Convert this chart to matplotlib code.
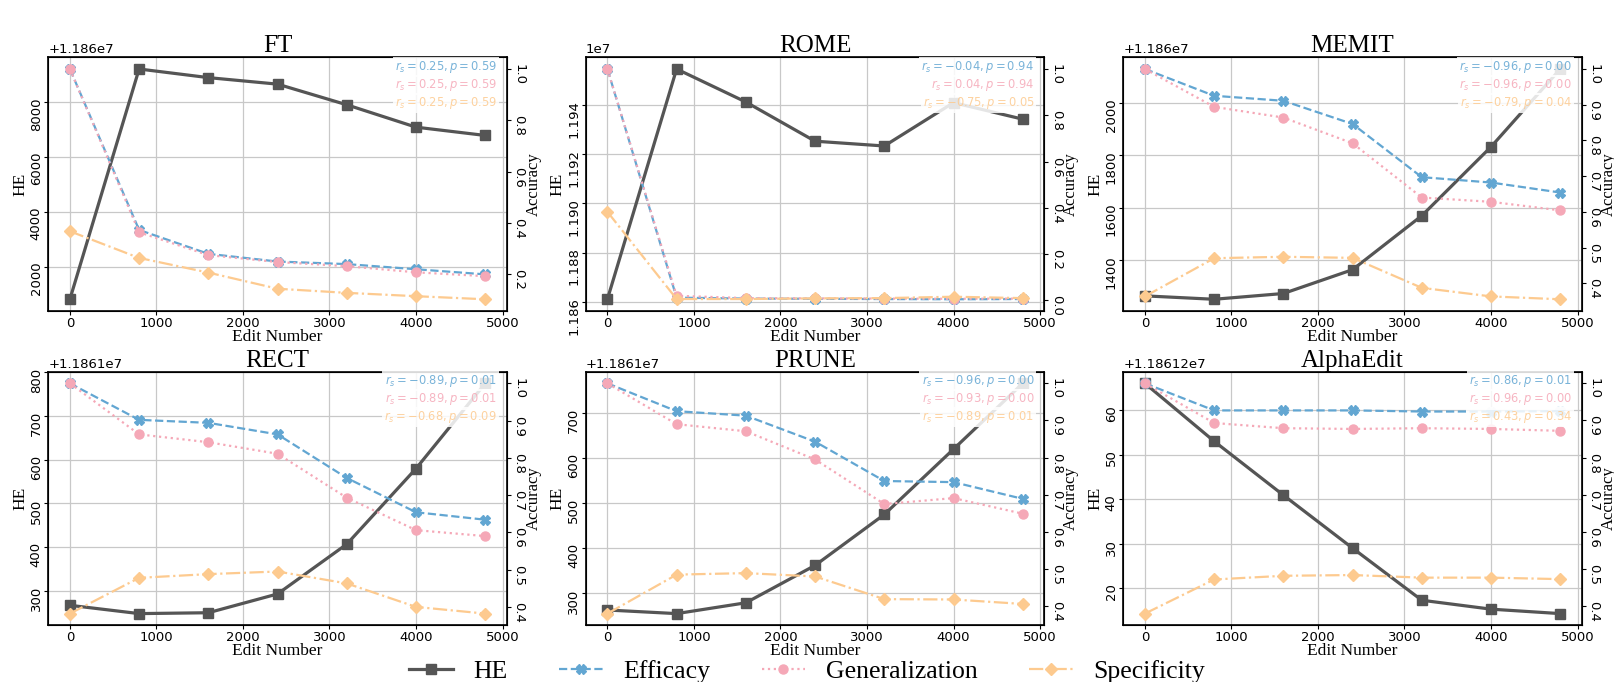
import matplotlib
matplotlib.use("Agg")
import matplotlib.pyplot as plt

edits = [0, 800, 1600, 2400, 3200, 4000, 4800]
methods = ["FT", "ROME", "MEMIT", "RECT", "PRUNE", "AlphaEdit"]

he_ft = [11860808, 11869205, 11868891, 11868653, 11867900, 11867084, 11866782]
he_rome = [11860979, 11954690, 11941260, 11925310, 11923360, 11941000, 11934270]
he_memit = [11861264, 11861251, 11861273, 11861364, 11861570, 11861833, 11862130]
he_rect = [11861267, 11861248, 11861250, 11861293, 11861407, 11861580, 11861775]
he_prune = [11861263, 11861255, 11861279, 11861362, 11861475, 11861620, 11861766]
he_alpha = [11861266.0, 11861253.0, 11861240.9, 11861229.0, 11861217.3, 11861215.3, 11861214.3]

eff_ft = [1.0, 0.373, 0.28, 0.25, 0.24, 0.22, 0.20]
eff_rome = [1.0, 0.012, 0.008, 0.007, 0.006, 0.005, 0.006]
eff_memit = [1.0, 0.925, 0.911, 0.846, 0.697, 0.682, 0.654]
eff_rect = [1.0, 0.902, 0.894, 0.863, 0.746, 0.654, 0.634]
eff_prune = [1.0, 0.925, 0.913, 0.843, 0.737, 0.734, 0.689]
eff_alpha = [1.0, 0.927, 0.927, 0.927, 0.924, 0.924, 0.925]

gen_ft = [1.0, 0.364, 0.275, 0.248, 0.232, 0.208, 0.193]
gen_rome = [1.0, 0.02, 0.01, 0.009, 0.008, 0.007, 0.008]
gen_memit = [1.0, 0.894, 0.864, 0.792, 0.640, 0.628, 0.604]
gen_rect = [1.0, 0.863, 0.842, 0.811, 0.693, 0.606, 0.590]
gen_prune = [1.0, 0.890, 0.871, 0.795, 0.675, 0.691, 0.649]
gen_alpha = [1.0, 0.893, 0.879, 0.877, 0.879, 0.877, 0.872]

spec_ft = [0.368, 0.264, 0.207, 0.144, 0.128, 0.115, 0.103]
spec_rome = [0.383, 0.006, 0.006, 0.009, 0.010, 0.016, 0.010]
spec_memit = [0.363, 0.470, 0.474, 0.471, 0.387, 0.363, 0.355]
spec_rect = [0.382, 0.478, 0.488, 0.495, 0.463, 0.400, 0.382]
spec_prune = [0.380, 0.485, 0.489, 0.480, 0.419, 0.418, 0.406]
spec_alpha = [0.379, 0.471, 0.481, 0.483, 0.476, 0.476, 0.472]

# spearman r_s and p shown in the corner (efficacy, generalization, specificity)
stats_eff = [("0.25", "0.59"), ("-0.04", "0.94"), ("-0.96", "0.00"),
             ("-0.89", "0.01"), ("-0.96", "0.00"), ("0.86", "0.01")]
stats_gen = [("0.25", "0.59"), ("0.04", "0.94"), ("-0.96", "0.00"),
             ("-0.89", "0.01"), ("-0.93", "0.00"), ("0.96", "0.00")]
stats_spec = [("0.25", "0.59"), ("-0.75", "0.05"), ("-0.79", "0.04"),
              ("-0.68", "0.09"), ("-0.89", "0.01"), ("0.43", "0.34")]

he_all = [he_ft, he_rome, he_memit, he_rect, he_prune, he_alpha]
eff_all = [eff_ft, eff_rome, eff_memit, eff_rect, eff_prune, eff_alpha]
gen_all = [gen_ft, gen_rome, gen_memit, gen_rect, gen_prune, gen_alpha]
spec_all = [spec_ft, spec_rome, spec_memit, spec_rect, spec_prune, spec_alpha]

c_he = "#555555"
c_eff = "#62a6d2"
c_gen = "#f5a8b7"
c_spec = "#fdca8f"
serif = "Liberation Serif"

fig, axes = plt.subplots(2, 3, figsize=(16.14, 6.82), dpi=100)
plt.subplots_adjust(left=0.0299, right=0.9801, top=0.9157, bottom=0.0834,
                    wspace=0.172, hspace=0.241)

for i, ax in enumerate(axes.flat):
    ax.plot(edits, he_all[i], color=c_he, marker="s", ms=7, lw=2.3, label="HE")
    ax2 = ax.twinx()
    ax2.plot(edits, eff_all[i], color=c_eff, ls="--", marker="X", ms=6.5, lw=1.6, label="Efficacy")
    ax2.plot(edits, gen_all[i], color=c_gen, ls=":", marker="o", ms=6.5, lw=1.6, label="Generalization")
    ax2.plot(edits, spec_all[i], color=c_spec, ls="-.", marker="D", ms=6, lw=1.6, label="Specificity")

    ax.grid(True, color="#c8c8c8", lw=0.9)
    ax.set_xlim(-250, 5050)
    ax.set_xticks([0, 1000, 2000, 3000, 4000, 5000])
    ax.set_title(methods[i], fontsize=18, family=serif, pad=3.5)
    ax.set_xlabel("Edit Number", fontsize=12.5, family=serif, labelpad=-1)
    ax.set_ylabel("HE", fontsize=12.5, family=serif, labelpad=1)
    ax2.set_ylabel("Accuracy", fontsize=12, family=serif, labelpad=0)
    ax.tick_params(axis="y", labelrotation=90, labelsize=9.5, length=3, pad=1)
    ax.tick_params(axis="x", labelsize=9.5, length=3, pad=1.5)
    ax2.tick_params(axis="y", labelrotation=-90, labelsize=9.5, length=3, pad=1)
    ax.yaxis.get_offset_text().set_fontsize(9.5)
    for sp in ax2.spines.values():
        sp.set_linewidth(1.2)

    box = dict(facecolor="white", edgecolor="none", alpha=0.85, pad=1.5)
    rows = [(stats_eff[i], c_eff, 0.963), (stats_gen[i], c_gen, 0.891), (stats_spec[i], c_spec, 0.821)]
    for (r, p), col, yy in rows:
        ax2.text(0.978, yy, r"$r_s = %s, p = %s$" % (r, p), transform=ax2.transAxes,
                 ha="right", va="center", fontsize=8.3, color=col, alpha=0.85,
                 bbox=box, zorder=10)

    if i == 0:
        handles = ax.get_lines() + ax2.get_lines()

fig.legend(handles, [h.get_label() for h in handles], loc="lower center", ncol=4,
           frameon=False, prop={"family": serif, "size": 18.5}, bbox_to_anchor=(0.5, -0.035),
           columnspacing=2.0, handlelength=1.7)

plt.savefig("out.png", dpi=100)
